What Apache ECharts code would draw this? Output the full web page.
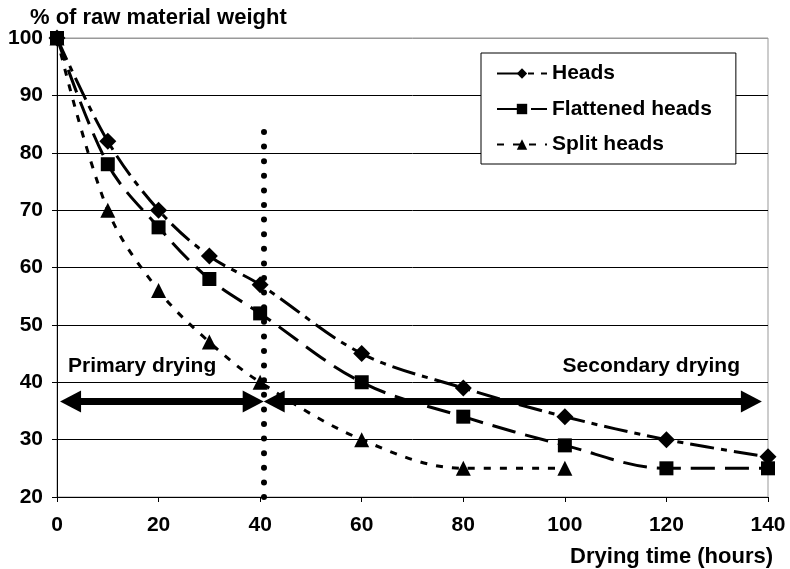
<!DOCTYPE html>
<html>
<head>
<meta charset="utf-8">
<script src="https://cdn.jsdelivr.net/npm/echarts@6/dist/echarts.min.js"></script>
<style>
html,body{margin:0;padding:0;background:#fff;}
#chart{width:790px;height:569px;}
</style>
</head>
<body>
<div id="chart"></div>
<script>
// ---- data ----
const hours = [0, 10, 20, 30, 40, 60, 80, 100, 120, 140];
const headsValues = [100, 82, 70, 62, 57, 45, 39, 34, 30, 27];
const flattenedValues = [100, 78, 67, 58, 52, 40, 34, 29, 25, 25];
const splitHours = [0, 10, 20, 30, 40, 60, 80, 100];
const splitValues = [100, 70, 56, 47, 40, 30, 25, 25];
const seriesNames = ['Heads', 'Flattened heads', 'Split heads'];
const phaseBoundary = 40.7;       // hours, vertical dotted line
const phaseArrowLevel = 36.65;    // % level of the phase arrows
const dottedTop = 84.3;
const primaryArrow = [2.67, 38.63];     // arrow-head centres (hours)
const secondaryArrow = [42.77, 136.73];
const yTitle = '% of raw material weight';
const xTitle = 'Drying time (hours)';
const phaseLabels = ['Primary drying', 'Secondary drying'];

const pairs = (xs, ys) => xs.map((x, i) => [x, ys[i]]);
const FONT = '"Liberation Sans", Arial, sans-serif';
const arrowSize = [22, 21];
const arrowLine = {type: 'solid', width: 7, color: '#000'};

const chart = echarts.init(document.getElementById('chart'), null, {renderer: 'canvas'});
const option = {
  animation: false,
  backgroundColor: '#fff',
  grid: {left: 57, right: 22, top: 38, bottom: 72, show: true, borderColor: '#999', borderWidth: 1, backgroundColor: 'transparent'},
  xAxis: {
    type: 'value', min: 0, max: 140, interval: 20,
    axisLine: {show: true, onZero: false, lineStyle: {color: '#000', width: 1}},
    axisTick: {show: true, length: 5, lineStyle: {color: '#000'}},
    axisLabel: {color: '#000', fontFamily: FONT, fontWeight: 'bold', fontSize: 21, margin: 18},
    splitLine: {show: false}
  },
  yAxis: {
    type: 'value', min: 20, max: 100, interval: 10,
    axisLine: {show: true, lineStyle: {color: '#000', width: 1}},
    axisTick: {show: true, length: 5, lineStyle: {color: '#000'}},
    axisLabel: {color: '#000', fontFamily: FONT, fontWeight: 'bold', fontSize: 21, margin: 14},
    splitLine: {show: true, lineStyle: {color: ['#000','#000','#000','#000','#000','#000','#000','#000','#999'], width: 1}}
  },
  legend: {
    orient: 'vertical', left: 481, top: 53,
    data: seriesNames,
    backgroundColor: '#fff', borderColor: '#000', borderWidth: 1,
    padding: [10, 24, 9, 15], itemGap: 14.5, itemWidth: 50, itemHeight: 13,
    textStyle: {color: '#000', fontFamily: FONT, fontWeight: 'bold', fontSize: 21}
  },
  graphic: [
    {type: 'text', left: 30, top: 7, style: {text: yTitle, fill: '#000', font: 'bold 22px ' + FONT}},
    {type: 'text', right: 17, top: 546, style: {text: xTitle, fill: '#000', font: 'bold 22px ' + FONT}},
    {type: 'text', left: 68, top: 356, style: {text: phaseLabels[0], fill: '#000', font: 'bold 21px ' + FONT}},
    {type: 'text', right: 50, top: 356, style: {text: phaseLabels[1], fill: '#000', font: 'bold 21px ' + FONT}}
  ],
  series: [
    {
      name: seriesNames[0], type: 'line', smooth: 0.35,
      data: pairs(hours, headsValues),
      symbol: 'diamond', symbolSize: 17,
      itemStyle: {color: '#000'},
      lineStyle: {color: '#000', width: 3, type: [24, 7, 6, 7]},
      z: 3
    },
    {
      name: seriesNames[1], type: 'line', smooth: 0.35,
      data: pairs(hours, flattenedValues),
      symbol: 'rect', symbolSize: 14,
      itemStyle: {color: '#000'},
      lineStyle: {color: '#000', width: 3, type: [24, 10]},
      z: 4
    },
    {
      name: seriesNames[2], type: 'line', smooth: 0.35,
      data: pairs(splitHours, splitValues),
      symbol: 'triangle', symbolSize: 15,
      itemStyle: {color: '#000'},
      lineStyle: {color: '#000', width: 3, type: [7, 9]},
      z: 2,
      markLine: {
        silent: true, animation: false,
        label: {show: false},
        emphasis: {disabled: true},
        data: [
          [{coord: [phaseBoundary, 20], symbol: 'none', lineStyle: {type: [0, 14.6], width: 6, cap: 'round', color: '#000'}},
           {coord: [phaseBoundary, dottedTop], symbol: 'none'}],
          [{coord: [primaryArrow[0], phaseArrowLevel], symbol: 'triangle', symbolSize: arrowSize, lineStyle: arrowLine},
           {coord: [primaryArrow[1], phaseArrowLevel], symbol: 'triangle', symbolSize: arrowSize}],
          [{coord: [secondaryArrow[0], phaseArrowLevel], symbol: 'triangle', symbolSize: arrowSize, lineStyle: arrowLine},
           {coord: [secondaryArrow[1], phaseArrowLevel], symbol: 'triangle', symbolSize: arrowSize}]
        ]
      }
    }
  ]
};
chart.setOption(option);
</script>
</body>
</html>
